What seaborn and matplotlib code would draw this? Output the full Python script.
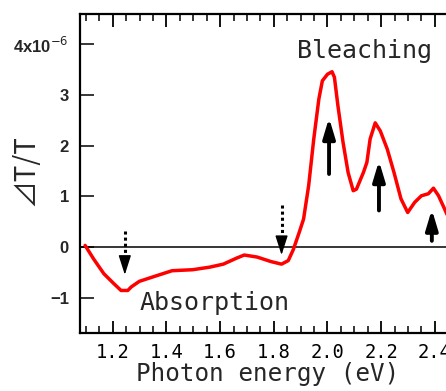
import matplotlib
matplotlib.use("Agg")
import matplotlib.pyplot as plt
import seaborn as sns
import numpy as np
import pandas as pd
from matplotlib.ticker import MultipleLocator, FixedLocator

# ---- data ----
energy = [1.097, 1.129, 1.167, 1.205, 1.231, 1.256, 1.269, 1.299, 1.345, 1.421,
          1.498, 1.561, 1.612, 1.662, 1.690, 1.738, 1.790, 1.829, 1.854, 1.873,
          1.895, 1.911, 1.930, 1.949, 1.968, 1.981, 2.000, 2.017, 2.026, 2.039,
          2.058, 2.077, 2.096, 2.108, 2.134, 2.147, 2.159, 2.178, 2.197, 2.223,
          2.248, 2.274, 2.299, 2.325, 2.350, 2.376, 2.395, 2.414, 2.439, 2.458, 2.475]
dT_T = [0.03, -0.24, -0.53, -0.73, -0.86, -0.86, -0.79, -0.68, -0.60, -0.47,
        -0.45, -0.40, -0.34, -0.22, -0.16, -0.20, -0.29, -0.34, -0.27, -0.05,
        0.29, 0.55, 1.21, 2.13, 2.92, 3.28, 3.41, 3.46, 3.35, 2.79,
        2.07, 1.47, 1.11, 1.14, 1.47, 1.67, 2.13, 2.45, 2.29, 1.93,
        1.47, 0.95, 0.68, 0.88, 1.01, 1.05, 1.16, 1.01, 0.72, 0.49, 0.42]

xticks = [1.2, 1.4, 1.6, 1.8, 2.0, 2.2, 2.4]
xticklabels = ["1.2", "1.4", "1.6", "1.8", "2.0", "2.2", "2.4"]
yticks = [-1, 0, 1, 2, 3, 4]
yticklabels = ["\u22121", "0", "1", "2", "3", "4x10$^{-6}$"]

# arrows: (x, y_start, y_end)
up_arrows = [(2.006, 1.44, 2.55), (2.192, 0.72, 1.70), (2.389, 0.12, 0.74)]
down_arrows = [(1.245, 0.32, -0.55), (1.829, 0.82, -0.16)]

df = pd.DataFrame({"energy": energy, "dT": dT_T})

sns.set_theme(style="ticks")
plt.rcParams["font.family"] = ["DejaVu Sans Mono", "DejaVu Sans"]

fig = plt.figure(figsize=(4.46, 3.91), dpi=100)
ax = fig.add_axes([80 / 446, 1 - 333 / 391, 1.02 - 80 / 446, (333 - 14) / 391])

ax.axhline(0, color="black", lw=1.1, zorder=1)
sns.lineplot(data=df, x="energy", y="dT", ax=ax, color="#ff0000", lw=2.5, zorder=3)

ax.set_xlim(1.078, 2.475)
ax.set_ylim(-1.7, 4.6)

ax.xaxis.set_major_locator(FixedLocator(xticks))
ax.set_xticklabels(xticklabels, fontsize=13.5)
ax.xaxis.set_minor_locator(MultipleLocator(0.05))
ax.yaxis.set_major_locator(FixedLocator(yticks))
ax.set_yticklabels(yticklabels, fontsize=12, fontweight="bold",
                   family=["Liberation Sans", "DejaVu Sans"])

ax.tick_params(axis="x", which="major", direction="in", length=9, width=1.3, top=True, pad=7, colors="black")
ax.tick_params(axis="x", which="minor", direction="in", length=5, width=1.3, top=True)
ax.tick_params(axis="y", which="major", direction="in", length=10, width=1.3, pad=8)
for s in ["left", "bottom", "top", "right"]:
    ax.spines[s].set_linewidth(1.6)
    ax.spines[s].set_color("black")

ax.set_xlabel("Photon energy (eV)", fontsize=17.5, labelpad=0)
ax.set_ylabel("\u22bfT/T", fontsize=20, family=["Noto Sans CJK JP", "DejaVu Sans"])
ax.yaxis.set_label_coords(-0.105, 0.51)

ax.text(2.137, 3.87, "Bleaching", fontsize=18, ha="center", va="center")
ax.text(1.578, -1.1, "Absorption", fontsize=18, ha="center", va="center")

for x, y0, y1 in up_arrows:
    ax.annotate("", xy=(x, y1), xytext=(x, y0),
                arrowprops=dict(arrowstyle="-|>,head_length=1.0,head_width=0.3",
                                lw=2.8, color="black", shrinkA=0, shrinkB=0))
for x, y0, y1 in down_arrows:
    ax.plot([x, x], [y0, y1 + 0.3], color="black", lw=2.2, ls=(0, (1, 1)))
    ax.annotate("", xy=(x, y1), xytext=(x, y1 + 0.36),
                arrowprops=dict(arrowstyle="-|>,head_length=1.0,head_width=0.32",
                                lw=1.0, color="black", shrinkA=0, shrinkB=0))

fig.savefig("out.png", dpi=100)
